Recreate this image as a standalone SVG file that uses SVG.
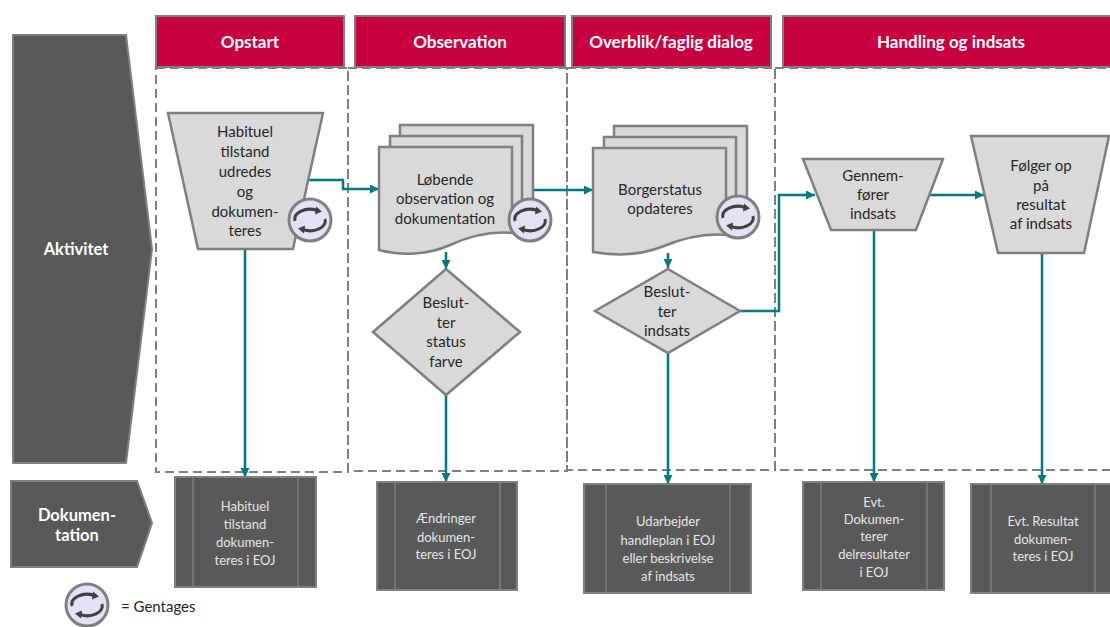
<svg xmlns="http://www.w3.org/2000/svg" xmlns:xlink="http://www.w3.org/1999/xlink" width="1110" height="627" viewBox="0 0 1110 627">
<style>
.hdr{fill:#C8003F;stroke:#7F7F7F;stroke-width:2}
.hdrt{font-family:Lato,"Open Sans","Liberation Sans",sans-serif;font-weight:bold;font-size:17px;fill:#FFFFFF;text-anchor:middle}
.lane{fill:none;stroke:#7F7F7F;stroke-width:2;stroke-dasharray:9 5}
.side{fill:#595959;stroke:#7F7F7F;stroke-width:2}
.sidet{font-family:Lato,"Open Sans","Liberation Sans",sans-serif;font-weight:bold;font-size:16.5px;fill:#FFFFFF;text-anchor:middle}
.shp{fill:#D9D9D9;stroke:#7F7F7F;stroke-width:2.5}
.t{font-family:Lato,"Open Sans","Liberation Sans",sans-serif;font-size:15px;fill:#262626;text-anchor:middle}
.doc{fill:#595959;stroke:#7F7F7F;stroke-width:2}
.docl{stroke:#7F7F7F;stroke-width:1.5}
.dt{font-family:Lato,"Open Sans","Liberation Sans",sans-serif;font-size:13px;fill:#E6E6E6;text-anchor:middle}
.con{fill:none;stroke:#007A80;stroke-width:2.5}
.lg{font-family:Lato,"Open Sans","Liberation Sans",sans-serif;font-size:15px;fill:#262626}
</style>
<defs>
<marker id="ah" viewBox="0 0 10 10" refX="10" refY="5" markerWidth="10" markerHeight="9" markerUnits="userSpaceOnUse" orient="auto">
<path d="M0,0 L10,5 L0,10 z" fill="#007A80"/>
</marker>
<g id="rep">
<circle r="21" fill="#E6E0F5" stroke="#7F7F7F" stroke-width="3"/>
<path d="M-15,1 A15,10 0 0 1 7,-9.5" fill="none" stroke="#404040" stroke-width="3"/>
<path d="M15,-1 A15,10 0 0 1 -7,9.5" fill="none" stroke="#404040" stroke-width="3"/>
<path d="M6,-13.5 L12,-8.5 L5,-5.5 z" fill="#404040"/>
<path d="M-6,13.5 L-12,8.5 L-5,5.5 z" fill="#404040"/>
</g>
</defs>

<g id="lanes">
<rect class="lane" x="156" y="68" width="192" height="404"/>
<rect class="lane" x="348" y="68" width="219" height="403"/>
<rect class="lane" x="567" y="68" width="208" height="402"/>
<rect class="lane" x="775" y="68" width="345" height="402"/>
</g>

<g id="header-opstart"><rect class="hdr" x="156" y="16" width="188" height="51"/><text class="hdrt" x="250" y="48">Opstart</text></g>
<g id="header-observation"><rect class="hdr" x="355" y="16" width="210" height="51"/><text class="hdrt" x="460" y="48">Observation</text></g>
<g id="header-overblik"><rect class="hdr" x="572" y="16" width="199" height="51"/><text class="hdrt" x="671" y="48">Overblik/faglig dialog</text></g>
<g id="header-handling"><rect class="hdr" x="783" y="16" width="335" height="51"/><text class="hdrt" x="951" y="48">Handling og indsats</text></g>

<g id="aktivitet"><polygon class="side" points="13,35 126,35 152,249 126,463 13,463"/><text class="sidet" x="76" y="255">Aktivitet</text></g>
<g id="dokumentation"><polygon class="side" points="11,481 137,481 152,523 137,567 11,567"/><text class="sidet" x="77" y="521">Dokumen-</text><text class="sidet" x="77" y="541">tation</text></g>

<g id="connectors">
<path class="con" d="M308,180 H343 V189 H379" marker-end="url(#ah)"/>
<path class="con" d="M533,190 H593" marker-end="url(#ah)"/>
<path class="con" d="M245,249 V477" marker-end="url(#ah)"/>
<path class="con" d="M446,252 V269" marker-end="url(#ah)"/>
<path class="con" d="M446,395 V482" marker-end="url(#ah)"/>
<path class="con" d="M668,253 V268" marker-end="url(#ah)"/>
<path class="con" d="M668,353 V484" marker-end="url(#ah)"/>
<path class="con" d="M740,311 H779 V195 H815" marker-end="url(#ah)"/>
<path class="con" d="M930,195 H984" marker-end="url(#ah)"/>
<path class="con" d="M874,230 V482" marker-end="url(#ah)"/>
<path class="con" d="M1042,253 V484" marker-end="url(#ah)"/>
</g>

<g id="habituel">
<polygon class="shp" points="168,113 323,113 293,249 198,249"/>
<text class="t" x="245" y="137">Habituel</text>
<text class="t" x="245" y="157">tilstand</text>
<text class="t" x="245" y="177">udredes</text>
<text class="t" x="245" y="197">og</text>
<text class="t" x="245" y="217">dokumen-</text>
<text class="t" x="245" y="236">teres</text>
<use xlink:href="#rep" href="#rep" transform="translate(310,220)"/>
</g>

<g id="loebende">
<path class="shp" d="M400,125 H533 V212 H400 Z"/>
<path class="shp" d="M390,136 H522 V223 H390 Z"/>
<path class="shp" d="M379,147 H512 V233 C490,231 470,236 450,245 C428,255 402,256 379,250 Z"/>
<text class="t" x="445" y="185">Løbende</text>
<text class="t" x="445" y="204">observation og</text>
<text class="t" x="445" y="224">dokumentation</text>
<use xlink:href="#rep" href="#rep" transform="translate(530,220)"/>
</g>

<g id="beslutter-status">
<polygon class="shp" points="446,269 520,332 446,395 373,332"/>
<text class="t" x="446" y="308">Beslut-</text>
<text class="t" x="446" y="328">ter</text>
<text class="t" x="446" y="347">status</text>
<text class="t" x="446" y="367">farve</text>
</g>

<g id="borgerstatus">
<path class="shp" d="M614,126 H747 V210 H614 Z"/>
<path class="shp" d="M604,137 H736 V222 H604 Z"/>
<path class="shp" d="M593,148 H726 V235 C704,233 684,238 664,246 C642,255 616,256 593,252 Z"/>
<text class="t" x="660" y="195">Borgerstatus</text>
<text class="t" x="660" y="214">opdateres</text>
<use xlink:href="#rep" href="#rep" transform="translate(738,217)"/>
</g>

<g id="beslutter-indsats">
<polygon class="shp" points="668,269 740,311 668,353 595,311"/>
<text class="t" x="667" y="297">Beslut-</text>
<text class="t" x="667" y="317">ter</text>
<text class="t" x="667" y="336">indsats</text>
</g>

<g id="gennemfoerer">
<polygon class="shp" points="803,159 943,159 916,230 831,230"/>
<text class="t" x="873" y="181">Gennem-</text>
<text class="t" x="873" y="200">fører</text>
<text class="t" x="873" y="219">indsats</text>
</g>

<g id="foelger">
<polygon class="shp" points="971,136 1109,136 1084,253 998,253"/>
<text class="t" x="1041" y="171">Følger op</text>
<text class="t" x="1041" y="191">på</text>
<text class="t" x="1041" y="210">resultat</text>
<text class="t" x="1041" y="229">af indsats</text>
</g>

<g id="doc-habituel">
<rect class="doc" x="175" y="477" width="141" height="110"/>
<line class="docl" x1="193" y1="477" x2="193" y2="587"/><line class="docl" x1="298" y1="477" x2="298" y2="587"/>
<text class="dt" x="245" y="511">Habituel</text>
<text class="dt" x="245" y="529">tilstand</text>
<text class="dt" x="245" y="547">dokumen-</text>
<text class="dt" x="245" y="565">teres i EOJ</text>
</g>

<g id="doc-aendringer">
<rect class="doc" x="377" y="482" width="140" height="108"/>
<line class="docl" x1="395" y1="482" x2="395" y2="590"/><line class="docl" x1="500" y1="482" x2="500" y2="590"/>
<text class="dt" x="446" y="523">Ændringer</text>
<text class="dt" x="446" y="542">dokumen-</text>
<text class="dt" x="446" y="559">teres i EOJ</text>
</g>

<g id="doc-udarbejder">
<rect class="doc" x="584" y="484" width="167" height="109"/>
<line class="docl" x1="606" y1="484" x2="606" y2="593"/><line class="docl" x1="730" y1="484" x2="730" y2="593"/>
<text class="dt" x="668" y="526">Udarbejder</text>
<text class="dt" x="668" y="545">handleplan i EOJ</text>
<text class="dt" x="668" y="563">eller beskrivelse</text>
<text class="dt" x="668" y="581">af indsats</text>
</g>

<g id="doc-delresultater">
<rect class="doc" x="803" y="482" width="141" height="108"/>
<line class="docl" x1="821" y1="482" x2="821" y2="590"/><line class="docl" x1="927" y1="482" x2="927" y2="590"/>
<text class="dt" x="874" y="507">Evt.</text>
<text class="dt" x="874" y="524">Dokumen-</text>
<text class="dt" x="874" y="541">terer</text>
<text class="dt" x="874" y="559">delresultater</text>
<text class="dt" x="874" y="577">i EOJ</text>
</g>

<g id="doc-resultat">
<rect class="doc" x="971" y="484" width="145" height="109"/>
<line class="docl" x1="991" y1="484" x2="991" y2="593"/><line class="docl" x1="1095" y1="484" x2="1095" y2="593"/>
<text class="dt" x="1043" y="526">Evt. Resultat</text>
<text class="dt" x="1043" y="544">dokumen-</text>
<text class="dt" x="1043" y="561">teres i EOJ</text>
</g>

<g id="legend">
<use xlink:href="#rep" href="#rep" transform="translate(87,605)"/>
<text class="lg" x="121" y="612">= Gentages</text>
</g>
</svg>
